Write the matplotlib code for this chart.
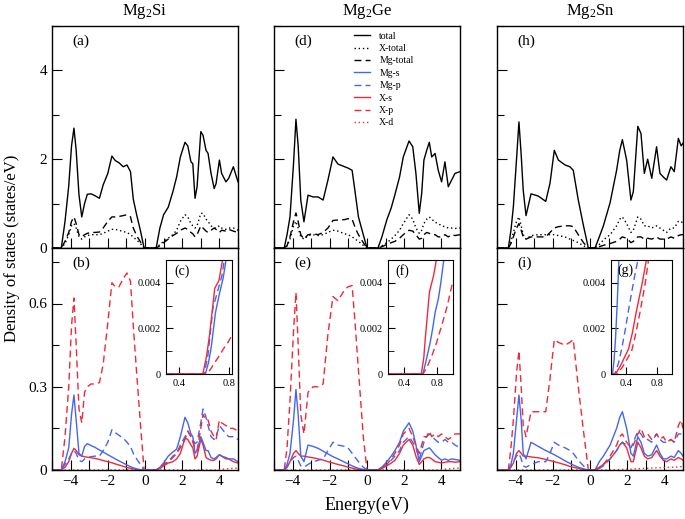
import matplotlib
matplotlib.use("Agg")
import matplotlib.pyplot as plt
from matplotlib.ticker import MultipleLocator

plt.rcParams['font.family'] = ['Liberation Serif', 'DejaVu Serif']
plt.rcParams['mathtext.fontset'] = 'custom'
plt.rcParams['mathtext.rm'] = 'Liberation Serif'
plt.rcParams['mathtext.it'] = 'Liberation Serif:italic'

BLUE = '#4466ee'
RED = '#ee2a3a'

titles = ["Mg$_2$Si", "Mg$_2$Ge", "Mg$_2$Sn"]
top_tags = ["(a)", "(d)", "(h)"]
bot_tags = ["(b)", "(e)", "(i)"]
inset_tags = ["(c)", "(f)", "(g)"]

# ---------------- Mg2Si ----------------
e_si = [-5.0, -4.5, -4.3, -4.1, -3.95, -3.82, -3.7, -3.55, -3.4, -3.25, -3.1, -2.9, -2.7, -2.45,
        -2.25, -2.0, -1.78, -1.6, -1.4, -1.17, -0.97, -0.78, -0.63, -0.45, -0.25, -0.05, 0.6,
        0.8, 1.0, 1.25, 1.5, 1.7, 1.9, 2.15, 2.3, 2.47, 2.57, 2.69, 2.8, 3.0, 3.12, 3.28, 3.39,
        3.55, 3.72, 3.82, 4.0, 4.12, 4.35, 4.5, 4.75, 5.0]
tot_si = [0, 0, 0.6, 1.4, 2.3, 2.7, 2.2, 1.2, 0.7, 1.0, 1.21, 1.22, 1.18, 1.12,
          1.42, 1.68, 2.07, 1.97, 1.92, 1.83, 1.87, 1.72, 1.1, 0.75, 0.4, 0, 0,
          0.45, 0.75, 0.92, 1.27, 1.6, 2.05, 2.38, 2.3, 1.94, 1.9, 1.12, 1.38, 2.62, 2.54, 2.2, 2.13,
          1.68, 1.34, 1.45, 1.98, 1.68, 1.49, 1.57, 1.83, 1.49]
xtot_si = [0, 0, 0.1, 0.3, 0.5, 0.55, 0.45, 0.25, 0.2, 0.25, 0.28, 0.3, 0.3, 0.3,
           0.33, 0.38, 0.42, 0.42, 0.4, 0.37, 0.35, 0.3, 0.25, 0.18, 0.1, 0, 0,
           0.08, 0.15, 0.22, 0.3, 0.4, 0.6, 0.75, 0.7, 0.55, 0.5, 0.45, 0.5, 0.78, 0.78, 0.65, 0.6,
           0.5, 0.45, 0.45, 0.5, 0.45, 0.42, 0.45, 0.45, 0.4]
mgtot_si = [0, 0, 0.15, 0.35, 0.6, 0.7, 0.55, 0.3, 0.25, 0.3, 0.33, 0.35, 0.35, 0.36,
            0.45, 0.6, 0.7, 0.7, 0.71, 0.73, 0.75, 0.7, 0.45, 0.28, 0.14, 0, 0,
            0.05, 0.12, 0.2, 0.28, 0.33, 0.4, 0.45, 0.42, 0.35, 0.32, 0.25, 0.3, 0.5, 0.45, 0.38, 0.35,
            0.4, 0.45, 0.42, 0.35, 0.4, 0.38, 0.42, 0.38, 0.35]
mgs_si = [0, 0, 0.03, 0.08, 0.2, 0.27, 0.18, 0.06, 0.05, 0.085, 0.095, 0.088, 0.082, 0.072,
          0.065, 0.055, 0.047, 0.04, 0.033, 0.025, 0.018, 0.012, 0.008, 0.004, 0.001, 0, 0,
          0.01, 0.025, 0.05, 0.065, 0.075, 0.12, 0.19, 0.17, 0.13, 0.12, 0.06, 0.07, 0.12, 0.1, 0.07, 0.07,
          0.045, 0.04, 0.045, 0.055, 0.05, 0.045, 0.04, 0.04, 0.03]
mgp_si = [0, 0, 0.02, 0.04, 0.06, 0.07, 0.06, 0.035, 0.03, 0.04, 0.045, 0.048, 0.05, 0.05,
          0.07, 0.1, 0.145, 0.135, 0.125, 0.115, 0.1, 0.085, 0.06, 0.04, 0.02, 0, 0,
          0.008, 0.02, 0.03, 0.045, 0.06, 0.09, 0.12, 0.14, 0.12, 0.11, 0.095, 0.1, 0.17, 0.22, 0.19, 0.16,
          0.12, 0.11, 0.12, 0.16, 0.15, 0.13, 0.12, 0.12, 0.11]
xs_si = [0, 0, 0.01, 0.03, 0.06, 0.078, 0.07, 0.055, 0.05, 0.048, 0.046, 0.044, 0.042, 0.038,
         0.034, 0.03, 0.026, 0.022, 0.018, 0.013, 0.009, 0.006, 0.004, 0.002, 0.001, 0, 0,
         0.005, 0.015, 0.025, 0.03, 0.04, 0.06, 0.115, 0.11, 0.09, 0.08, 0.04, 0.05, 0.11, 0.09, 0.045, 0.04,
         0.035, 0.035, 0.04, 0.055, 0.05, 0.04, 0.04, 0.03, 0.025]
xp_si = [0, 0, 0.12, 0.3, 0.52, 0.62, 0.45, 0.22, 0.17, 0.28, 0.3, 0.31, 0.31, 0.315,
         0.38, 0.53, 0.675, 0.66, 0.66, 0.69, 0.71, 0.68, 0.52, 0.35, 0.17, 0, 0,
         0.005, 0.02, 0.03, 0.05, 0.06, 0.08, 0.11, 0.14, 0.12, 0.1, 0.08, 0.07, 0.15, 0.2, 0.18, 0.18,
         0.14, 0.12, 0.11, 0.18, 0.17, 0.16, 0.15, 0.15, 0.14]
xd_si = [0, 0, 0, 0, 0, 0, 0, 0, 0, 0, 0, 0, 0, 0,
         0, 0, 0, 0, 0, 0, 0, 0, 0, 0, 0, 0, 0,
         0, 0, 0, 0, 0, 0, 0, 0, 0, 0, 0, 0, 0, 0, 0, 0,
         0, 0, 0, 0.002, 0.003, 0.004, 0.005, 0.006, 0.007]

# ---------------- Mg2Ge ----------------
e_ge = [-5.0, -4.45, -4.3, -4.14, -3.95, -3.82, -3.7, -3.56, -3.39, -3.17, -2.9, -2.63, -2.36, -2.1,
        -1.83, -1.56, -1.2, -1.02, -0.8, -0.63, -0.46, -0.2, 0.0, 0.59, 0.8, 1.07, 1.3, 1.5, 1.75,
        1.95, 2.26, 2.46, 2.63, 2.81, 2.94, 3.06, 3.21, 3.35, 3.48, 3.66, 3.83, 4.01, 4.19, 4.37,
        4.55, 4.73, 5.0]
tot_ge = [0, 0, 0.3, 0.7, 1.9, 2.9, 2.3, 1.08, 0.59, 1.19, 1.15, 1.15, 1.08, 1.53,
          2.05, 1.89, 1.83, 1.8, 1.75, 1.23, 0.7, 0.3, 0, 0, 0.25, 0.64, 0.9, 1.2, 1.6,
          2.05, 2.41, 2.28, 1.68, 0.78, 1.23, 1.98, 2.2, 2.38, 2.05, 2.13, 1.75, 1.49, 1.94, 1.38,
          1.53, 1.68, 1.72]
xtot_ge = [0, 0, 0.05, 0.2, 0.5, 0.6, 0.45, 0.25, 0.2, 0.28, 0.3, 0.28, 0.3, 0.35,
           0.4, 0.38, 0.32, 0.3, 0.25, 0.2, 0.15, 0.06, 0, 0, 0.05, 0.12, 0.2, 0.28, 0.4,
           0.55, 0.75, 0.65, 0.45, 0.33, 0.4, 0.55, 0.65, 0.7, 0.65, 0.58, 0.55, 0.5, 0.48, 0.45,
           0.45, 0.44, 0.45]
mgtot_ge = [0, 0, 0.05, 0.25, 0.6, 0.79, 0.6, 0.3, 0.2, 0.3, 0.32, 0.3, 0.35, 0.45,
            0.62, 0.63, 0.64, 0.66, 0.65, 0.45, 0.3, 0.12, 0, 0, 0.03, 0.08, 0.12, 0.15, 0.22,
            0.3, 0.4, 0.38, 0.3, 0.2, 0.22, 0.3, 0.35, 0.33, 0.3, 0.3, 0.25, 0.25, 0.3, 0.25,
            0.3, 0.28, 0.3]
mgs_ge = [0, 0, 0.02, 0.06, 0.18, 0.29, 0.2, 0.05, 0.03, 0.09, 0.085, 0.078, 0.068, 0.058,
          0.048, 0.04, 0.028, 0.022, 0.015, 0.01, 0.006, 0.002, 0, 0, 0.01, 0.03, 0.05, 0.07, 0.1,
          0.14, 0.17, 0.14, 0.09, 0.03, 0.05, 0.07, 0.075, 0.08, 0.07, 0.055, 0.045, 0.035, 0.04, 0.035,
          0.04, 0.038, 0.035]
mgp_ge = [0, 0, 0.01, 0.03, 0.045, 0.05, 0.035, 0.015, 0.01, 0.02, 0.03, 0.035, 0.04, 0.07,
          0.1, 0.09, 0.085, 0.08, 0.06, 0.045, 0.03, 0.01, 0, 0, 0.01, 0.02, 0.035, 0.05, 0.07,
          0.1, 0.12, 0.1, 0.08, 0.04, 0.07, 0.1, 0.12, 0.13, 0.12, 0.11, 0.1, 0.1, 0.11, 0.1,
          0.1, 0.09, 0.08]
xs_ge = [0, 0, 0.01, 0.03, 0.06, 0.07, 0.06, 0.05, 0.05, 0.047, 0.044, 0.04, 0.036, 0.03,
         0.025, 0.02, 0.014, 0.01, 0.007, 0.004, 0.002, 0.001, 0, 0, 0.005, 0.015, 0.025, 0.035, 0.06,
         0.09, 0.11, 0.09, 0.05, 0.02, 0.03, 0.04, 0.045, 0.045, 0.04, 0.03, 0.028, 0.025, 0.028, 0.03,
         0.03, 0.028, 0.03]
xp_ge = [0, 0, 0.08, 0.25, 0.5, 0.64, 0.45, 0.2, 0.13, 0.28, 0.3, 0.3, 0.31, 0.49,
         0.625, 0.61, 0.65, 0.66, 0.665, 0.52, 0.36, 0.12, 0, 0, 0.01, 0.02, 0.04, 0.06, 0.09,
         0.13, 0.15, 0.12, 0.09, 0.06, 0.09, 0.12, 0.12, 0.14, 0.12, 0.13, 0.12, 0.13, 0.12, 0.11,
         0.12, 0.13, 0.13]
xd_ge = [0, 0, 0, 0, 0, 0, 0, 0, 0, 0, 0, 0, 0, 0,
         0, 0, 0, 0, 0, 0, 0, 0, 0, 0, 0, 0, 0, 0, 0,
         0, 0, 0, 0, 0, 0, 0, 0, 0, 0, 0, 0, 0.002, 0.003, 0.004,
         0.005, 0.006, 0.007]

# ---------------- Mg2Sn ----------------
e_sn = [-5.0, -4.39, -4.25, -4.12, -3.95, -3.82, -3.7, -3.59, -3.44, -3.17, -2.78, -2.38, -2.15,
        -1.92, -1.7, -1.34, -1.08, -0.9, -0.63, -0.35, -0.09, 0.27, 0.5, 0.72, 1.08, 1.43, 1.6,
        1.74, 1.97, 2.2, 2.33, 2.57, 2.74, 2.92, 3.1, 3.32, 3.58, 3.76, 3.94, 4.12, 4.35, 4.53,
        4.75, 4.9, 5.0]
tot_sn = [0, 0, 0.4, 0.93, 2.0, 2.84, 2.1, 1.3, 0.73, 1.22, 1.17, 1.05, 1.46,
          2.2, 1.98, 1.87, 1.83, 1.75, 1.08, 0.5, 0, 0, 0.25, 0.5, 1.02, 1.75, 2.2,
          2.44, 1.98, 1.08, 1.27, 2.74, 2.58, 1.68, 2.0, 1.57, 2.28, 1.68, 1.6, 1.53, 1.83, 1.72,
          2.47, 2.3, 2.36]
xtot_sn = [0, 0, 0.15, 0.35, 0.6, 0.7, 0.5, 0.3, 0.2, 0.28, 0.3, 0.3, 0.3,
           0.3, 0.28, 0.25, 0.2, 0.17, 0.12, 0.05, 0, 0, 0.08, 0.18, 0.3, 0.5, 0.65,
           0.7, 0.55, 0.35, 0.4, 0.7, 0.65, 0.5, 0.5, 0.45, 0.5, 0.45, 0.4, 0.35, 0.45, 0.45,
           0.6, 0.6, 0.55]
mgtot_sn = [0, 0, 0.1, 0.25, 0.45, 0.55, 0.4, 0.25, 0.2, 0.25, 0.25, 0.25, 0.35,
            0.45, 0.48, 0.5, 0.5, 0.48, 0.3, 0.12, 0, 0, 0.03, 0.06, 0.1, 0.15, 0.2,
            0.25, 0.22, 0.12, 0.15, 0.25, 0.25, 0.2, 0.22, 0.2, 0.25, 0.2, 0.2, 0.2, 0.25, 0.22,
            0.28, 0.3, 0.3]
mgs_sn = [0, 0, 0.02, 0.06, 0.18, 0.27, 0.18, 0.06, 0.04, 0.1, 0.085, 0.07, 0.063,
          0.055, 0.047, 0.033, 0.024, 0.018, 0.01, 0.004, 0, 0, 0.03, 0.05, 0.09, 0.15, 0.19,
          0.21, 0.15, 0.06, 0.05, 0.12, 0.1, 0.06, 0.05, 0.055, 0.09, 0.06, 0.04, 0.04, 0.05, 0.045,
          0.07, 0.06, 0.05]
mgp_sn = [0, 0, 0.015, 0.03, 0.05, 0.06, 0.04, 0.015, 0.01, 0.02, 0.03, 0.03, 0.06,
          0.1, 0.09, 0.08, 0.07, 0.06, 0.035, 0.015, 0, 0, 0.005, 0.015, 0.04, 0.07, 0.09,
          0.1, 0.09, 0.08, 0.1, 0.14, 0.13, 0.11, 0.11, 0.1, 0.13, 0.11, 0.1, 0.1, 0.11, 0.1,
          0.13, 0.13, 0.13]
xs_sn = [0, 0, 0.01, 0.025, 0.06, 0.07, 0.06, 0.05, 0.05, 0.047, 0.044, 0.038, 0.034,
         0.03, 0.026, 0.019, 0.013, 0.01, 0.006, 0.002, 0, 0, 0.01, 0.02, 0.04, 0.07, 0.09,
         0.1, 0.08, 0.03, 0.03, 0.1, 0.08, 0.05, 0.04, 0.045, 0.07, 0.05, 0.035, 0.03, 0.04, 0.035,
         0.045, 0.04, 0.035]
xp_sn = [0, 0, 0.08, 0.18, 0.35, 0.43, 0.3, 0.16, 0.12, 0.21, 0.21, 0.21, 0.33,
         0.47, 0.46, 0.45, 0.46, 0.47, 0.3, 0.14, 0, 0, 0.01, 0.02, 0.05, 0.09, 0.12,
         0.13, 0.1, 0.08, 0.09, 0.13, 0.15, 0.12, 0.13, 0.11, 0.13, 0.11, 0.12, 0.1, 0.11, 0.1,
         0.16, 0.18, 0.15]
xd_sn = [0, 0, 0, 0, 0, 0, 0, 0, 0, 0, 0, 0, 0,
         0, 0, 0, 0, 0, 0, 0, 0, 0, 0, 0, 0, 0.001, 0.002,
         0.002, 0.003, 0.003, 0.004, 0.005, 0.005, 0.006, 0.006, 0.007, 0.008, 0.008, 0.009, 0.009, 0.01, 0.01,
         0.011, 0.012, 0.012]

# ---------------- insets (near conduction band edge) ----------------
ins_si_xs_e = [0.3, 0.59, 0.62, 0.643, 0.665, 0.684, 0.717, 0.752]
ins_si_xs = [0, 0, 0.0008, 0.0017, 0.0028, 0.00376, 0.0041, 0.0052]
ins_si_mgs_e = [0.3, 0.61, 0.635, 0.657, 0.69, 0.72, 0.75, 0.779]
ins_si_mgs = [0, 0, 0.0005, 0.0012, 0.0027, 0.0035, 0.0042, 0.0052]
ins_si_mgp_e = [0.3, 0.6, 0.63, 0.67, 0.71, 0.74, 0.765]
ins_si_mgp = [0, 0, 0.0008, 0.0029, 0.0037, 0.0043, 0.0052]
ins_si_xp_e = [0.3, 0.62, 0.65, 0.684, 0.72, 0.752, 0.79, 0.83]
ins_si_xp = [0, 0, 0.0002, 0.0005, 0.0008, 0.0011, 0.0014, 0.0018]

ins_ge_xs_e = [0.2, 0.61, 0.64, 0.66, 0.69, 0.71, 0.76, 0.8]
ins_ge_xs = [0, 0, 0.0007, 0.0016, 0.0028, 0.0036, 0.0043, 0.0051]
ins_ge_mgs_e = [0.2, 0.63, 0.67, 0.72, 0.75, 0.78, 0.82, 0.85, 0.89]
ins_ge_mgs = [0, 0, 0.0006, 0.0014, 0.002, 0.0027, 0.0033, 0.004, 0.0051]
ins_ge_xp_e = [0.2, 0.63, 0.68, 0.74, 0.8, 0.85, 0.9, 0.93, 1.0]
ins_ge_xp = [0, 0, 0.0003, 0.0008, 0.0014, 0.002, 0.0026, 0.003, 0.0041]

ins_sn_mgs_e = [0.2, 0.22, 0.24, 0.26, 0.28, 0.29, 0.305]
ins_sn_mgs = [0, 0, 0.0006, 0.0016, 0.003, 0.0038, 0.0052]
ins_sn_mgp_e = [0.2, 0.25, 0.3, 0.34, 0.39, 0.44, 0.51, 0.565]
ins_sn_mgp = [0, 0, 0.0005, 0.0011, 0.002, 0.003, 0.0043, 0.0052]
ins_sn_xs_e = [0.2, 0.26, 0.33, 0.43, 0.48, 0.53, 0.61, 0.675]
ins_sn_xs = [0, 0, 0.0004, 0.0011, 0.0018, 0.0027, 0.004, 0.0052]
ins_sn_xp_e = [0.2, 0.28, 0.35, 0.47, 0.52, 0.58, 0.65, 0.7]
ins_sn_xp = [0, 0, 0.0003, 0.001, 0.0017, 0.0027, 0.004, 0.0052]

materials = [
    dict(e=e_si, tot=tot_si, xtot=xtot_si, mgtot=mgtot_si, mgs=mgs_si, mgp=mgp_si,
         xs=xs_si, xp=xp_si, xd=xd_si,
         ins=[(ins_si_mgs_e, ins_si_mgs, 'mgs'), (ins_si_mgp_e, ins_si_mgp, 'mgp'),
              (ins_si_xs_e, ins_si_xs, 'xs'), (ins_si_xp_e, ins_si_xp, 'xp')],
         ixlim=(0.3, 0.82)),
    dict(e=e_ge, tot=tot_ge, xtot=xtot_ge, mgtot=mgtot_ge, mgs=mgs_ge, mgp=mgp_ge,
         xs=xs_ge, xp=xp_ge, xd=xd_ge,
         ins=[(ins_ge_mgs_e, ins_ge_mgs, 'mgs'), (ins_ge_xs_e, ins_ge_xs, 'xs'),
              (ins_ge_xp_e, ins_ge_xp, 'xp')],
         ixlim=(0.2, 1.0)),
    dict(e=e_sn, tot=tot_sn, xtot=xtot_sn, mgtot=mgtot_sn, mgs=mgs_sn, mgp=mgp_sn,
         xs=xs_sn, xp=xp_sn, xd=xd_sn,
         ins=[(ins_sn_mgs_e, ins_sn_mgs, 'mgs'), (ins_sn_mgp_e, ins_sn_mgp, 'mgp'),
              (ins_sn_xs_e, ins_sn_xs, 'xs'), (ins_sn_xp_e, ins_sn_xp, 'xp')],
         ixlim=(0.2, 1.0)),
]

styles = {
    'tot': dict(color='black', ls='-'),
    'xtot': dict(color='black', ls=(0, (1, 2))),
    'mgtot': dict(color='black', ls=(0, (5, 3))),
    'mgs': dict(color=BLUE, ls='-'),
    'mgp': dict(color=BLUE, ls=(0, (5, 3))),
    'xs': dict(color=RED, ls='-'),
    'xp': dict(color=RED, ls=(0, (5, 3))),
    'xd': dict(color=RED, ls=(0, (1, 2))),
}
labels = {'tot': 'total', 'xtot': 'X-total', 'mgtot': 'Mg-total', 'mgs': 'Mg-s',
          'mgp': 'Mg-p', 'xs': 'X-s', 'xp': 'X-p', 'xd': 'X-d'}

fig = plt.figure(figsize=(6.85, 5.19), dpi=100)

lefts = [52 / 685, 274 / 685, 497 / 685]
w = 186 / 685
h = 222 / 519
inset_lefts = [166 / 685, 388 / 685, 611 / 685]
inset_w = [66 / 685, 65 / 685, 61 / 685]

legend_handles = {}
for i, m in enumerate(materials):
    ax_t = fig.add_axes([lefts[i], 248 / 519 + 0 * h + (1 - 248 / 519 - 26 / 519 - h), w, h])
    ax_t.set_position([lefts[i], 1 - 248 / 519, w, h])
    ax_b = fig.add_axes([lefts[i], 1 - 470 / 519, w, h])

    for key in ['tot', 'xtot', 'mgtot']:
        ln, = ax_t.plot(m['e'], m[key], lw=1.0, **styles[key])
        legend_handles.setdefault(key, ln)
    for key in ['xd', 'xs', 'mgs', 'mgp', 'xp']:
        ln, = ax_b.plot(m['e'], m[key], lw=1.0, **styles[key])
        legend_handles.setdefault(key, ln)

    ax_t.set_ylim(0, 5)
    ax_b.set_ylim(0, 0.8)
    ax_t.yaxis.set_major_locator(MultipleLocator(2))
    ax_t.yaxis.set_minor_locator(MultipleLocator(1))
    ax_b.yaxis.set_major_locator(MultipleLocator(0.3))
    ax_b.yaxis.set_minor_locator(MultipleLocator(0.15))
    for ax in (ax_t, ax_b):
        ax.set_xlim(-5, 5)
        ax.xaxis.set_major_locator(MultipleLocator(2))
        ax.xaxis.set_minor_locator(MultipleLocator(1))
        ax.tick_params(which='both', direction='in', top=False, right=False, labelsize=11)
        ax.tick_params(which='major', length=7, width=0.8)
        ax.tick_params(which='minor', length=5, width=0.8)
        ax.tick_params(axis='x', which='minor', length=7)
        for s in ax.spines.values():
            s.set_linewidth(1.0)
    ax_t.tick_params(labelbottom=False)
    ax_b.set_yticks([0, 0.3, 0.6])
    ax_b.set_yticklabels(['0', '0.3', '0.6'])
    ax_t.set_yticks([0, 2, 4])
    ax_t.set_yticklabels(['0', '2', '4'])
    if i > 0:
        ax_t.tick_params(labelleft=False)
        ax_b.tick_params(labelleft=False)

    ax_t.set_title(titles[i], fontsize=12, pad=8)
    ax_t.text(0.11, 0.93, top_tags[i], transform=ax_t.transAxes, fontsize=11, va='center')
    ax_b.text(0.11, 0.93, bot_tags[i], transform=ax_b.transAxes, fontsize=11, va='center')

    # inset
    ax_i = fig.add_axes([inset_lefts[i], 1 - 374 / 519, inset_w[i], 114 / 519])
    for ex, vals, key in m['ins']:
        ax_i.plot(ex, vals, lw=1.0, **styles[key])
    ax_i.set_xlim(*m['ixlim'])
    ax_i.set_ylim(0, 0.005)
    ax_i.set_xticks([0.4, 0.8])
    ax_i.set_xticklabels(['0.4', '0.8'])
    ax_i.set_yticks([0, 0.002, 0.004])
    ax_i.set_yticklabels(['0', '0.002', '0.004'])
    ax_i.yaxis.set_minor_locator(MultipleLocator(0.001))
    ax_i.tick_params(which='both', direction='in', labelsize=7.5, top=False, right=False)
    ax_i.tick_params(which='major', length=5)
    ax_i.tick_params(which='minor', length=4)
    ax_i.text(0.12 if i < 2 else 0.1, 0.9 if i < 2 else 0.97, inset_tags[i],
              transform=ax_i.transAxes, fontsize=10, va='center' if i < 2 else 'top')

    if i == 1:
        order = ['tot', 'xtot', 'mgtot', 'mgs', 'mgp', 'xs', 'xp', 'xd']
        ax_t.legend([legend_handles[k] for k in order], [labels[k] for k in order],
                    loc='upper left', bbox_to_anchor=(0.43, 0.975), frameon=False,
                    fontsize=7, handlelength=1.6, handletextpad=1.0, labelspacing=0.35,
                    borderpad=0, borderaxespad=0)

fig.text(0.018, 1 - 248 / 519, 'Density of states (states/eV)', rotation=90,
         ha='center', va='center', fontsize=12)
fig.text(lefts[1] + w / 2, 0.027, 'Energy(eV)', ha='center', va='center', fontsize=13)

fig.savefig('out.png', dpi=100)
